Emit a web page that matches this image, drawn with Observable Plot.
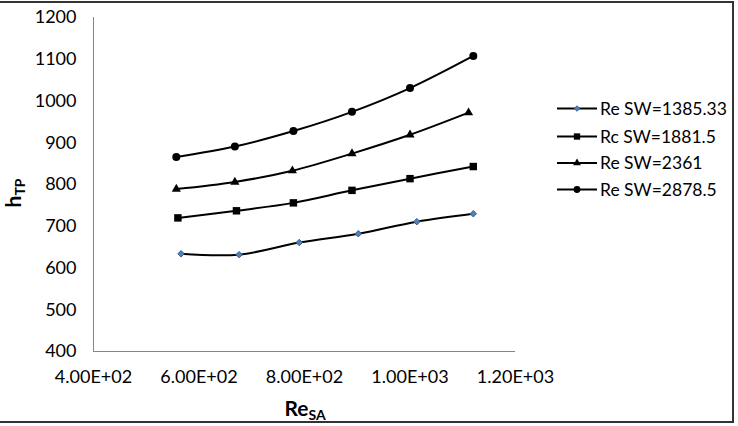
<!DOCTYPE html>
<html>
<head>
<meta charset="utf-8">
<script src="https://cdn.jsdelivr.net/npm/d3@7"></script>
<script src="https://cdn.jsdelivr.net/npm/@observablehq/plot@0.6"></script>
<style>
  html, body { margin: 0; padding: 0; background: #fff; }
  #chart { position: relative; width: 738px; height: 426px; }
</style>
</head>
<body>
<div id="chart"></div>
<script>
// Series of two-phase heat transfer coefficient h_TP against Re_SA
const seriesNames = ["Re SW=1385.33", "Rc SW=1881.5", "Re SW=2361", "Re SW=2878.5"];

const reSA_1385 = [566, 676, 790, 902, 1013, 1120];
const hTP_1385  = [634, 632, 661, 682, 711, 730];

const reSA_1881 = [560, 671, 779, 890, 1000, 1120];
const hTP_1881  = [720, 737, 756, 786, 814, 843];

const reSA_2361 = [557, 668, 777, 890, 1000, 1111];
const hTP_2361  = [789, 806, 833, 874, 919, 972];

const reSA_2878 = [557, 668, 779, 890, 1000, 1120];
const hTP_2878  = [866, 891, 928, 974, 1031, 1108];

const xTicks = [400, 600, 800, 1000, 1200];
const yTicks = [400, 500, 600, 700, 800, 900, 1000, 1100, 1200];

const seriesX = [reSA_1385, reSA_1881, reSA_2361, reSA_2878];
const seriesY = [hTP_1385, hTP_1881, hTP_2361, hTP_2878];

const rows = seriesNames.flatMap((name, i) =>
  seriesX[i].map((x, j) => ({series: name, x, y: seriesY[i][j]}))
);

// marker style for each series
const markers = [
  {symbol: "diamond2", fill: "#4f81bd", stroke: "#385d8a", r: 2.9},
  {symbol: "square",   fill: "#000",    stroke: "none",    r: 4.2},
  {symbol: "triangle", fill: "#000",    stroke: "none",    r: 3.4},
  {symbol: "circle",   fill: "#000",    stroke: "none",    r: 4.0}
];

// 4.00E+02 style labels
const sci = d => d.toExponential(2).toUpperCase().replace(/E([+-])(\d)$/, "E$10$2");

const chart = Plot.plot({
  width: 738,
  height: 426,
  marginLeft: 93,
  marginRight: 223,
  marginTop: 17,
  marginBottom: 75,
  style: {fontFamily: "Lato, 'Open Sans', sans-serif", fontSize: "18px", color: "#000", background: "#fff", overflow: "visible"},
  x: {domain: [400, 1200], ticks: xTicks, tickFormat: sci, tickSize: 0, tickPadding: 19, label: null},
  y: {domain: [400, 1200], ticks: yTicks, tickFormat: d => String(d), tickSize: 0, tickPadding: 17, label: null},
  marks: [
    Plot.ruleX([400], {stroke: "#868686", strokeWidth: 1}),
    Plot.ruleY([400], {stroke: "#868686", strokeWidth: 1}),
    Plot.line(rows, {x: "x", y: "y", z: "series", curve: "catmull-rom", stroke: "#000", strokeWidth: 2}),
    ...seriesNames.map((name, i) =>
      Plot.dot(rows.filter(d => d.series === name), {
        x: "x", y: "y",
        symbol: () => markers[i].symbol,
        fill: markers[i].fill,
        stroke: markers[i].stroke,
        strokeWidth: 1,
        r: markers[i].r
      })
    )
  ]
});

const svg = d3.select(chart);

// axis titles with subscripts
const yTitle = svg.append("text")
  .attr("transform", "translate(21,193) rotate(-90)")
  .attr("text-anchor", "middle")
  .attr("font-family", "Lato, sans-serif")
  .attr("font-weight", "bold")
  .attr("fill", "#000");
yTitle.append("tspan").attr("font-size", 21).text("h");
yTitle.append("tspan").attr("font-size", 14).attr("dy", 4).text("TP");

const xTitle = svg.append("text")
  .attr("x", 305).attr("y", 416)
  .attr("text-anchor", "middle")
  .attr("font-family", "Lato, sans-serif")
  .attr("font-weight", "bold")
  .attr("fill", "#000");
xTitle.append("tspan").attr("font-size", 21).text("Re");
xTitle.append("tspan").attr("font-size", 14).attr("dy", 4).text("SA");

// legend
const legendY = [108.5, 136.5, 163, 189.5];
const legend = svg.append("g").attr("text-anchor", "start");
seriesNames.forEach((name, i) => {
  const g = legend.append("g").attr("transform", `translate(0,${legendY[i]})`);
  g.append("line").attr("x1", 557).attr("x2", 597).attr("y1", 0).attr("y2", 0)
    .attr("stroke", "#000").attr("stroke-width", 2);
  const symType = {diamond2: d3.symbolDiamond2, square: d3.symbolSquare, triangle: d3.symbolTriangle, circle: d3.symbolCircle}[markers[i].symbol];
  const size = Math.PI * Math.pow(markers[i].r * 0.85, 2);
  g.append("path").attr("transform", "translate(577,0)")
    .attr("d", d3.symbol(symType, size)())
    .attr("fill", markers[i].fill).attr("stroke", markers[i].stroke);
  g.append("text").attr("x", 600).attr("y", 0).attr("dy", "0.35em")
    .attr("text-anchor", "start")
    .attr("font-family", "Lato, sans-serif").attr("font-size", 17.5).attr("fill", "#000")
    .text(name);
});

// outer frame
svg.append("rect")
  .attr("x", -2).attr("y", 2).attr("width", 735).attr("height", 420)
  .attr("fill", "none").attr("stroke", "#333").attr("stroke-width", 2);

document.getElementById("chart").appendChild(chart);
</script>
</body>
</html>
